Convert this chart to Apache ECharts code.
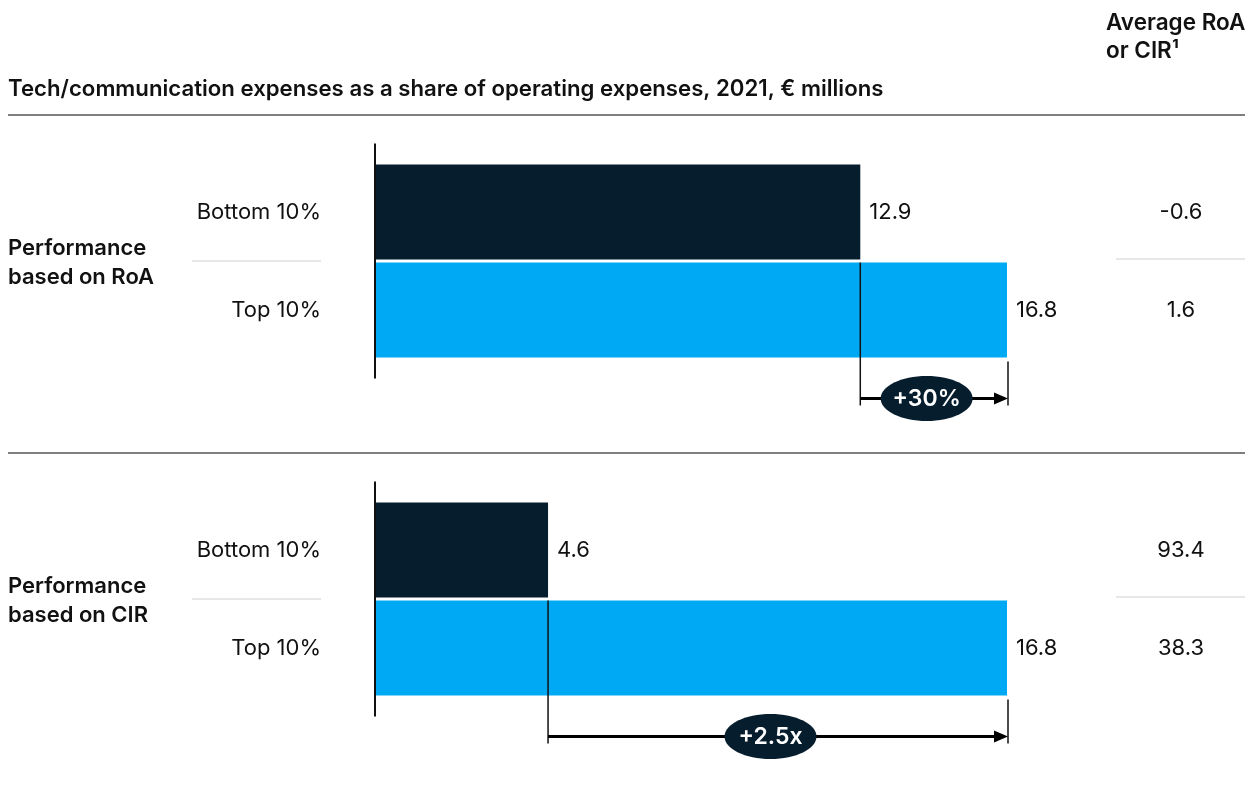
<!DOCTYPE html>
<html>
<head>
<meta charset="utf-8">
<script src="https://cdn.jsdelivr.net/npm/echarts@6/dist/echarts.min.js"></script>
<style>
  html, body { margin: 0; padding: 0; background: #ffffff; }
  #chart { width: 1253px; height: 793px; }
</style>
</head>
<body>
<div id="chart"></div>
<script>
// Tech/communication spend by performance decile, with average RoA / CIR per decile
const categories = ['Bottom 10%', 'Top 10%'];
const roaSpend = [12.9, 16.8];
const cirSpend = [4.6, 16.8];
const roaAverage = ['-0.6', '1.6'];
const cirAverage = ['93.4', '38.3'];
const groupNames = ['Performance\nbased on RoA', 'Performance\nbased on CIR'];
const uplifts = ['+30%', '+2.5x'];
const titleText = 'Tech/communication expenses as a share of operating expenses, 2021, € millions';
const sideTitle = 'Average RoA\nor CIR¹';

const NAVY = '#061d2d';
const BLUE = '#00a9f4';
const FONT = 'Inter, "Liberation Sans", Arial, sans-serif';
const BAR = 95;
const FS = 22;

const panels = [
  { spend: roaSpend, avg: roaAverage, top: 163 },
  { spend: cirSpend, avg: cirAverage, top: 501 }
];
const maxSpend = Math.max(...roaSpend, ...cirSpend);

const chart = echarts.init(document.getElementById('chart'), null, { renderer: 'canvas' });

const grids = [], xAxes = [], yAxes = [], series = [];
panels.forEach((p, i) => {
  grids.push({ left: 375, right: 246, top: p.top, height: 196, containLabel: false });
  xAxes.push({
    type: 'value', gridIndex: i, min: 0, max: maxSpend, show: false
  });
  yAxes.push({
    type: 'category', gridIndex: i, data: categories, inverse: true,
    axisLine: { show: false }, axisTick: { show: false }, splitLine: { show: false },
    axisLabel: { margin: 54, fontSize: FS, color: '#111', fontFamily: FONT, padding: [4, 0, 0, 0] }
  });
  yAxes.push({
    type: 'category', gridIndex: i, data: p.avg, inverse: true, position: 'right',
    axisLine: { show: false }, axisTick: { show: false }, splitLine: { show: false },
    axisLabel: { margin: 174, align: 'center', fontSize: FS, color: '#111', fontFamily: FONT, padding: [0, 0, 3, 0] }
  });
  series.push({
    type: 'bar', xAxisIndex: i, yAxisIndex: 2 * i, barWidth: BAR,
    data: p.spend.map((v, k) => ({ value: v, itemStyle: { color: k === 0 ? NAVY : BLUE } })),
    label: {
      show: true, position: 'right', distance: 9,
      fontSize: FS, color: '#111', fontFamily: FONT, padding: [3, 0, 0, 0]
    },
    silent: true, animation: false
  });
});

chart.setOption({
  animation: false,
  grid: grids, xAxis: xAxes, yAxis: yAxes, series: series
});

// Overlay: headings, rules, axis lines, separators and the uplift brackets
const g = [];
const text = (x, y, t, opt) => g.push({
  type: 'text', x, y, z: 20,
  style: Object.assign({ text: t, fontFamily: FONT, fontSize: FS, fill: '#111',
    align: 'left', verticalAlign: 'middle' }, opt)
});
const line = (x1, y1, x2, y2, stroke, w) => g.push({
  type: 'line', z: 15, shape: { x1, y1, x2, y2 },
  style: { stroke, lineWidth: w }
});

text(1106, 37, sideTitle, { fontWeight: 600, fontSize: 22.5, lineHeight: 28 });
text(8, 89, titleText, { fontWeight: 600, fontSize: 22.2 });
line(8, 115, 1245, 115, '#555', 1.5);
line(8, 453, 1245, 453, '#555', 1.5);

panels.forEach((p, i) => {
  const finder = { xAxisIndex: i, yAxisIndex: 2 * i };
  const px = (v, k) => chart.convertToPixel(finder, [v, k]);
  const x0 = px(0, 0)[0];
  const yc0 = px(0, 0)[1];
  const yc1 = px(0, 1)[1];
  const top0 = yc0 - BAR / 2;
  const top1 = yc1 - BAR / 2;
  const bottom1 = yc1 + BAR / 2;
  const mid = (yc0 + yc1) / 2;

  // vertical baseline
  line(x0, top0 - 21, x0, bottom1 + 21, '#111', 2);
  // light separators between deciles
  line(192, mid, 321, mid, '#cfcfcf', 1);
  line(1116, mid - 2, 1245, mid - 2, '#cfcfcf', 1);
  // group label
  text(8, mid + 2, groupNames[i], { fontWeight: 600, fontSize: 22, lineHeight: 29 });

  // uplift bracket from bottom-decile bar end to top-decile bar end
  const xa = px(p.spend[0], 0)[0];
  const xb = px(p.spend[1], 1)[0];
  const by = bottom1 + 41;
  line(xa, top1, xa, by + 7, '#111', 1.5);
  line(xb + 1, bottom1 + 4, xb + 1, by + 7, '#111', 1.5);
  line(xa, by, xb - 12, by, '#000', 3);
  g.push({
    type: 'polygon', z: 16,
    shape: { points: [[xb - 13, by - 6], [xb + 1, by], [xb - 13, by + 6]] },
    style: { fill: '#000' }
  });
  const cx = (xa + xb) / 2 - 7;
  g.push({
    type: 'ellipse', z: 17,
    shape: { cx, cy: by, rx: 46, ry: 22.5 },
    style: { fill: NAVY }
  });
  text(cx, by + 1, uplifts[i], { fontWeight: 600, fontSize: 23, fill: '#ffffff', align: 'center' });
});

chart.setOption({ graphic: { elements: g } });
</script>
</body>
</html>
